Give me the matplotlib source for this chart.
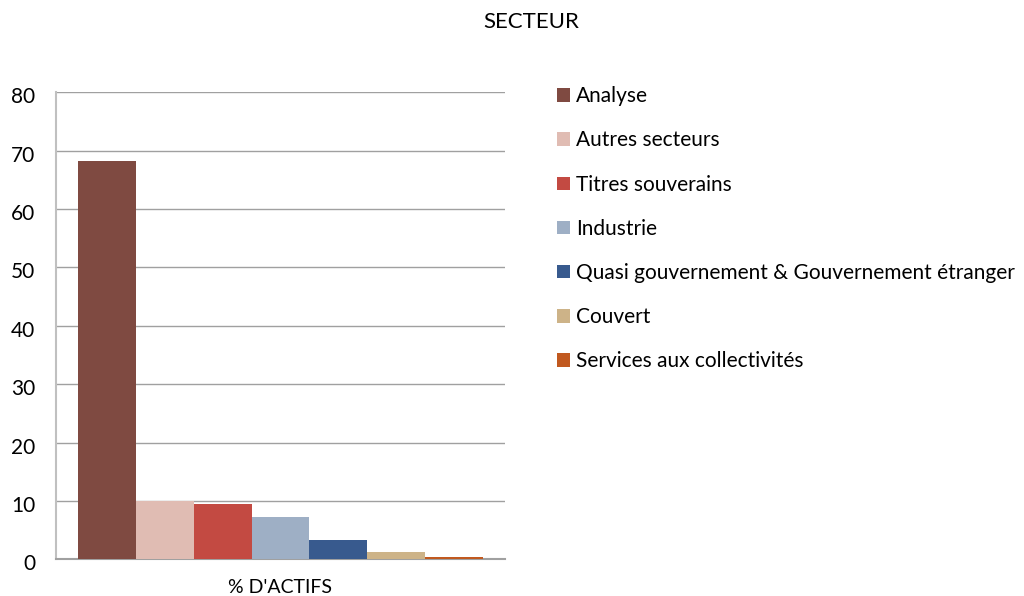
import matplotlib.pyplot as plt
import matplotlib.transforms as mtransforms
import numpy as np

plt.rcParams['font.family'] = ['Lato', 'DejaVu Sans']

secteurs = ['Analyse', 'Autres secteurs', 'Titres souverains', 'Industrie',
            'Quasi gouvernement & Gouvernement étranger', 'Couvert',
            'Services aux collectivités']
valeurs = [68.2, 10.0, 9.4, 7.2, 3.3, 1.25, 0.4]
couleurs = ['#7F4A41', '#E0BCB3', '#C34A42', '#9EAFC5', '#385A8E', '#CDB388', '#C1591F']
categorie = "% D'ACTIFS"

fig = plt.figure(figsize=(10.24, 5.96), dpi=100)
ax = fig.add_axes([56 / 1024, (596 - 559.3) / 596, 449 / 1024, 467 / 596])

x = np.arange(len(valeurs))
bars = ax.bar(x, valeurs, width=1.0, color=couleurs, zorder=3)

ax.set_xlim(-0.886, len(valeurs) - 1 + 0.886)
ax.set_ylim(0, 80)
ax.set_yticks(range(0, 81, 10))
ax.yaxis.grid(True, color='#A0A0A0', linewidth=1.0, zorder=0)
ax.set_xticks([])
ax.tick_params(axis='y', length=0, pad=15, labelsize=15)

# labels slightly below their gridlines, as in the original
decal = mtransforms.ScaledTranslation(0, -3 / 100, fig.dpi_scale_trans)
for lab in ax.get_yticklabels():
    lab.set_transform(lab.get_transform() + decal)

for s in ['top', 'right']:
    ax.spines[s].set_visible(False)
ax.spines['left'].set_color('#C0C0C0')
ax.spines['left'].set_linewidth(1.5)
ax.spines['bottom'].set_color('#A0A0A0')
ax.spines['bottom'].set_linewidth(1.5)

ax.set_xlabel(categorie, fontsize=14, labelpad=14)
fig.text(531 / 1024, 1 - 22 / 596, 'SECTEUR', ha='center', va='center', fontsize=16)

fig.legend(bars, secteurs, loc='upper left', bbox_to_anchor=(549 / 1024, 1 - 78 / 596),
           frameon=False, fontsize=15, labelspacing=1.16, handlelength=0.63,
           handleheight=0.63, handletextpad=0.28, borderaxespad=0)

fig.savefig('out.png', dpi=100)
